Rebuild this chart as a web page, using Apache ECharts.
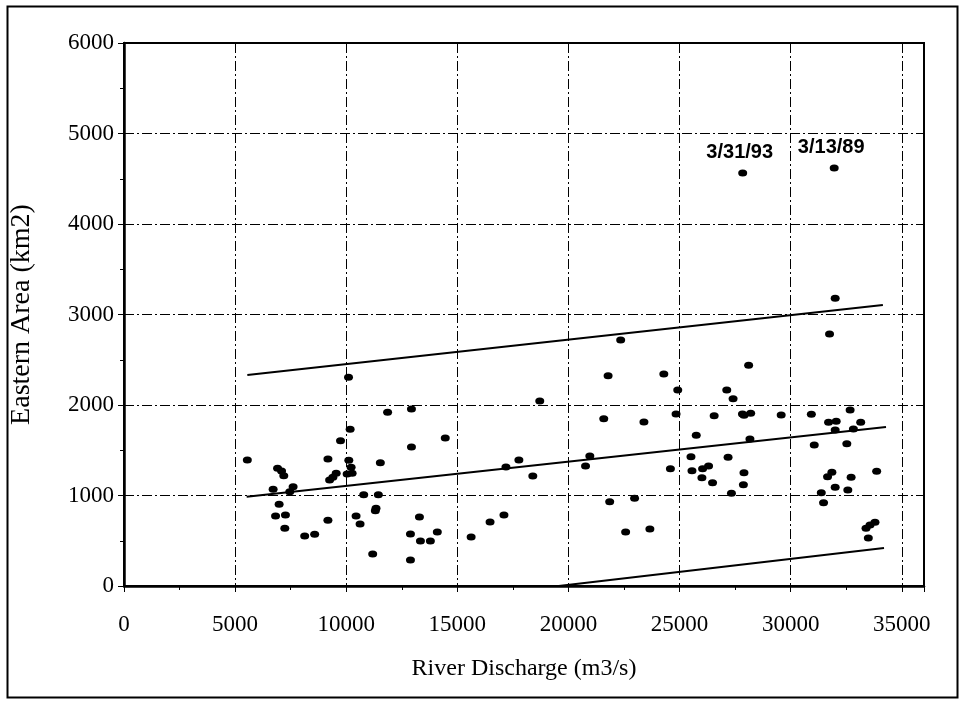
<!DOCTYPE html>
<html>
<head>
<meta charset="utf-8">
<script src="https://cdn.jsdelivr.net/npm/echarts@6/dist/echarts.min.js"></script>
<style>
html,body{margin:0;padding:0;background:#fff;}
#chart{width:959px;height:702px;}
</style>
</head>
<body>
<div id="chart"></div>
<script>
// Observations: [River Discharge (m3/s), Eastern Area (km2)]
var observations = [
  [5550,1392],
  [6910,1300],[7090,1271],[7190,1219],
  [6710,1068],[7610,1097],[7460,1042],
  [6980,903],[6820,774],[7265,785],[7236,638],
  [8132,553],[8580,571],
  [9176,1403],[9743,1606],[10103,2306],[10176,1731],[10116,1389],
  [9548,1245],[9400,1201],[9252,1171],[10220,1312],[10265,1245],[10041,1237],
  [9176,726],
  [10787,1009],[11445,1009],[11340,859],[11311,832],[10444,774],[10623,685],[11191,354],
  [11535,1363],[11862,1919],
  [12936,1956],[12936,1536],[14457,1635],
  [13294,762],[12891,575],[13339,497],[13786,497],[14099,597],[12891,287],
  [15621,541],[16472,707],[17098,785],[17188,1315],[17770,1392],[18396,1216],[18710,2044],
  [22350,2718],[21785,2324],[24292,2343],[24918,2166],[21589,1849],[23396,1812],[24842,1901],[26557,1882],[25751,1665],
  [20962,1437],[20769,1326],[25514,1429],[24588,1296],[25559,1274],[26037,1296],[26306,1326],[26006,1197],[26485,1141],
  [21856,932],[22976,969],[22574,597],[23665,630],
  [31749,2785],[32003,3179],[28109,2439],[27125,2166],[27408,2070],
  [27830,1901],[27900,1888],[28200,1908],[29573,1890],[30931,1897],[32675,1945],
  [31705,1809],[32049,1820],[33151,1809],[32003,1724],[32823,1735],
  [28167,1624],[31061,1558],[32527,1572],[27183,1422],
  [27899,1252],[27872,1119],[27335,1024],
  [31660,1208],[31855,1256],[32720,1201],[33870,1267],[32003,1091],[32572,1061],[31377,1031],[31480,920],
  [33391,638],[33570,674],[33794,704],[33495,530]
];

// Labelled outliers
var outlierX = [27841, 31959];
var outlierY = [4564, 4619];
var outlierLabels = ['3/31/93', '3/13/89'];

// Trend and envelope lines (endpoints)
var upperX = [5550, 34150], upperY = [2332, 3105];
var middleX = [5520, 34290], middleY = [987, 1757];
var lowerX = [19560, 34200], lowerY = [0, 420];

var xTicks = {min: 0, max: 36000, interval: 5000};
var yTicks = {min: 0, max: 6000, interval: 1000};

function pairs(xs, ys) { return xs.map(function (x, i) { return [x, ys[i]]; }); }
function plain(v) { return String(v); }

var serif = 'Liberation Serif';
var dashDot = [10, 3, 2, 3];

var chart = echarts.init(document.getElementById('chart'), null, {renderer: 'canvas'});
chart.setOption({
  backgroundColor: '#fff',
  animation: false,
  graphic: [{
    type: 'rect', left: 5, top: 4,
    shape: {width: 950, height: 691},
    style: {fill: 'none', stroke: '#000', lineWidth: 2}
  }],
  grid: {left: 120, top: 43, right: 35, bottom: 116, show: true, borderColor: '#000', borderWidth: 2, backgroundColor: 'transparent'},
  xAxis: {
    type: 'value', min: xTicks.min, max: xTicks.max, interval: xTicks.interval,
    name: 'River Discharge (m3/s)', nameLocation: 'middle', nameGap: 71,
    nameTextStyle: {fontFamily: serif, fontSize: 24, color: '#000'},
    axisLine: {show: true, onZero: false, lineStyle: {color: '#000', width: 2.5}},
    axisTick: {show: true, inside: false, length: 6, lineStyle: {color: '#000', width: 1}},
    minorTick: {show: true, splitNumber: 2, length: 4, lineStyle: {color: '#000'}},
    axisLabel: {fontFamily: serif, fontSize: 23, color: '#000', margin: 27, showMaxLabel: false, formatter: plain},
    splitLine: {show: true, lineStyle: {color: '#000', width: 1, type: dashDot}}
  },
  yAxis: {
    type: 'value', min: yTicks.min, max: yTicks.max, interval: yTicks.interval,
    name: 'Eastern Area (km2)', nameLocation: 'middle', nameGap: 88, nameRotate: 90,
    nameTextStyle: {fontFamily: serif, fontSize: 28, color: '#000'},
    axisLine: {show: true, onZero: false, lineStyle: {color: '#000', width: 2.5}},
    axisTick: {show: true, inside: false, length: 6, lineStyle: {color: '#000', width: 1}},
    minorTick: {show: true, splitNumber: 2, length: 4, lineStyle: {color: '#000'}},
    axisLabel: {fontFamily: serif, fontSize: 23, color: '#000', margin: 10, formatter: plain},
    splitLine: {show: true, lineStyle: {color: '#000', width: 1, type: dashDot}}
  },
  series: [
    {type: 'line', data: pairs(upperX, upperY), symbol: 'none', lineStyle: {color: '#000', width: 2}, silent: true, z: 3},
    {type: 'line', data: pairs(middleX, middleY), symbol: 'none', lineStyle: {color: '#000', width: 2}, silent: true, z: 3},
    {type: 'line', data: pairs(lowerX, lowerY), symbol: 'none', lineStyle: {color: '#000', width: 2}, silent: true, z: 3},
    {type: 'scatter', data: observations, symbol: 'circle', symbolSize: [9, 7], itemStyle: {color: '#000', opacity: 1}, z: 4},
    {type: 'scatter', symbol: 'circle', symbolSize: [9, 7], itemStyle: {color: '#000', opacity: 1}, z: 4,
      data: outlierX.map(function (x, i) { return {value: [x, outlierY[i]], name: outlierLabels[i]}; }),
      label: {show: true, position: 'top', distance: 7, offset: [-3, 0], formatter: function (p) { return p.name; },
        fontFamily: 'Liberation Sans', fontWeight: 'bold', fontSize: 20, color: '#000', opacity: 1}
    }
  ]
});
</script>
</body>
</html>
